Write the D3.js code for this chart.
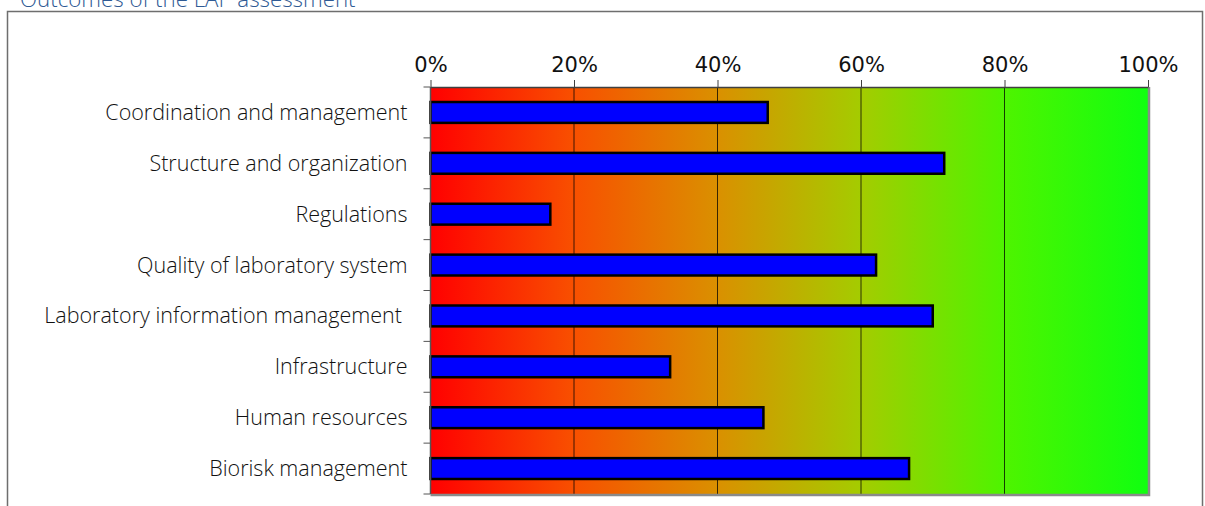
<!DOCTYPE html>
<html>
<head>
<meta charset="utf-8">
<script src="https://cdn.jsdelivr.net/npm/d3@7.9.0/dist/d3.min.js"></script>
<style>
  body { margin: 0; background: #fff; }
  svg { display: block; }
</style>
</head>
<body>
<svg id="chart" width="1205" height="506"></svg>
<script>
// data
const categories = [
  'Coordination and management',
  'Structure and organization',
  'Regulations',
  'Quality of laboratory system',
  'Laboratory information management ',
  'Infrastructure',
  'Human resources',
  'Biorisk management'
];
const scores = [0.47, 0.716, 0.167, 0.621, 0.70, 0.334, 0.464, 0.667];
const tickValues = [0, 0.2, 0.4, 0.6, 0.8, 1.0];
const title = 'Outcomes of the LAP assessment';

// background gradient stops (offset, colour)
const gradStops = [
  [0, '#ff0000'], [0.2, '#f85000'], [0.4, '#da9000'],
  [0.6, '#a4cc00'], [0.8, '#4ef400'], [1, '#10ff10']
];

const svg = d3.select('#chart');
const margin = { top: 87, left: 430.5, right: 1205 - 1148, bottom: 506 - 494 };
const width = 1205 - margin.left - margin.right;
const height = 506 - margin.top - margin.bottom;

// outer frame
svg.append('rect')
  .attr('x', 7.5).attr('y', 11.5)
  .attr('width', 1195).attr('height', 520)
  .attr('fill', 'none')
  .attr('stroke', '#6e6e6e')
  .attr('stroke-width', 1.5);

svg.append('text')
  .attr('x', 20).attr('y', 7)
  .attr('font-family', 'Open Sans')
  .attr('font-weight', 300)
  .attr('font-size', 22.3)
  .attr('fill', '#2f5a94')
  .text(title);

const defs = svg.append('defs');
const grad = defs.append('linearGradient').attr('id', 'bg')
  .attr('x1', '0%').attr('x2', '100%').attr('y1', '0%').attr('y2', '0%');
grad.selectAll('stop').data(gradStops).join('stop')
  .attr('offset', d => d[0])
  .attr('stop-color', d => d[1]);

const g = svg.append('g').attr('transform', `translate(${margin.left},${margin.top})`);

const x = d3.scaleLinear().domain([0, 1]).range([0, width]);
const y = d3.scaleBand().domain(categories).range([0, height]).padding(0);

// plot background
g.append('rect')
  .attr('width', width).attr('height', height)
  .attr('fill', 'url(#bg)');

// gridlines
g.append('g')
  .selectAll('line')
  .data(tickValues.slice(1, -1))
  .join('line')
  .attr('x1', d => x(d)).attr('x2', d => x(d))
  .attr('y1', 0).attr('y2', height)
  .attr('stroke', '#000')
  .attr('stroke-opacity', 0.75)
  .attr('stroke-width', 1);

// right/bottom grey border
g.append('path')
  .attr('d', `M${width + 1},0V${height + 1}H0`)
  .attr('fill', 'none')
  .attr('stroke', '#8a8a8a')
  .attr('stroke-width', 2.5);

// bars
const barH = y.bandwidth() * 0.41;
g.append('g')
  .selectAll('rect')
  .data(categories)
  .join('rect')
  .attr('x', 0)
  .attr('y', d => y(d) + (y.bandwidth() - barH) / 2)
  .attr('width', (d, i) => x(scores[i]))
  .attr('height', barH)
  .attr('fill', '#0000ff')
  .attr('stroke', '#000')
  .attr('stroke-width', 2.5);

// top axis
const xAxis = g.append('g')
  .call(d3.axisTop(x).tickValues(tickValues).tickFormat(d3.format('.0%')).tickSize(7).tickSizeOuter(0));
xAxis.select('.domain').attr('stroke', '#404040').attr('stroke-width', 1.5);
xAxis.selectAll('.tick line').attr('stroke', '#404040');
xAxis.selectAll('.tick text')
  .attr('font-family', 'DejaVu Sans')
  .attr('font-size', 21)
  .attr('fill', '#111')
  .attr('dy', '-0.25em');

// left axis with ticks on category boundaries
const leftAxis = g.append('g');
leftAxis.append('line')
  .attr('x1', 0).attr('x2', 0).attr('y1', 0).attr('y2', height)
  .attr('stroke', '#555').attr('stroke-width', 1.5);
leftAxis.selectAll('line.tk')
  .data(d3.range(categories.length + 1))
  .join('line')
  .attr('class', 'tk')
  .attr('x1', -7).attr('x2', 0)
  .attr('y1', i => i * y.step()).attr('y2', i => i * y.step())
  .attr('stroke', '#555').attr('stroke-width', 1);

leftAxis.selectAll('text')
  .data(categories)
  .join('text')
  .attr('x', -23)
  .attr('y', d => y(d) + y.bandwidth() / 2)
  .attr('dy', '0.35em')
  .attr('text-anchor', 'end')
  .attr('font-family', 'Open Sans')
  .attr('font-weight', 300)
  .attr('font-size', 21.5)
  .attr('fill', '#111')
  .style('white-space', 'pre')
  .text(d => d);
</script>
</body>
</html>
